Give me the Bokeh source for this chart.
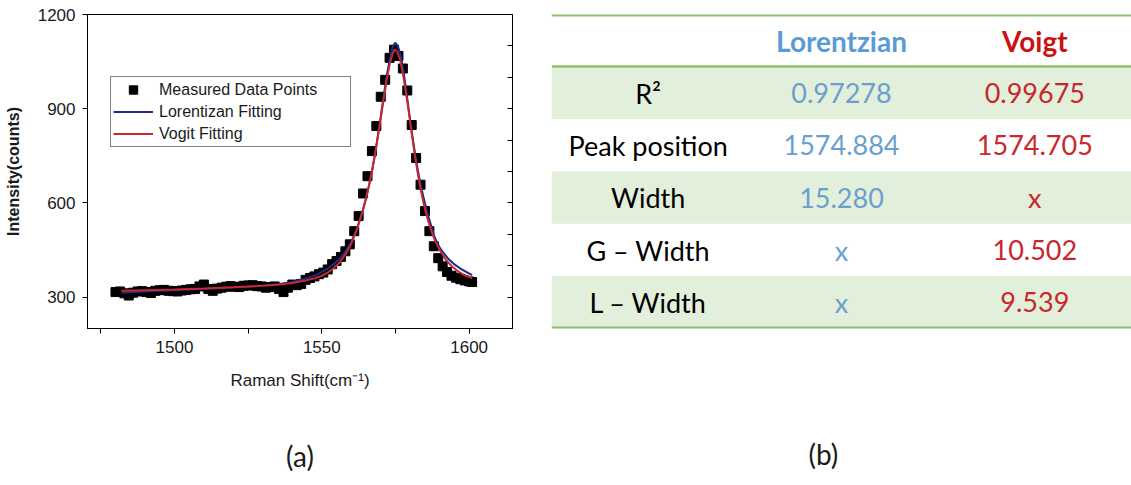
from bokeh.plotting import figure
from bokeh.models import (Range1d, LinearAxis, SingleIntervalTicker, FixedTicker, Legend,
                          LegendItem, FactorRange, Title)
from bokeh.layouts import row
from bokeh.core.properties import value
from bokeh.embed import file_html
from bokeh.resources import INLINE

# ---------------- data: Raman spectrum ----------------
meas_x = [1480.0, 1481.5, 1483.0, 1484.5, 1486.0, 1487.5, 1489.0, 1490.5, 1492.0, 1493.5,
          1495.0, 1496.5, 1498.0, 1499.5, 1501.0, 1502.5, 1504.0, 1505.5, 1507.0, 1508.5,
          1510.0, 1511.5, 1513.0, 1514.5, 1516.0, 1517.5, 1519.0, 1520.5, 1522.0, 1523.5,
          1525.0, 1526.5, 1528.0, 1529.5, 1531.0, 1532.5, 1534.0, 1535.5, 1537.0, 1538.5,
          1540.0, 1541.5, 1543.0, 1544.5, 1546.0, 1547.5, 1549.0, 1550.5, 1552.0, 1553.5,
          1555.0, 1556.5, 1558.0, 1559.5, 1561.0, 1562.5, 1564.0, 1565.5, 1567.0, 1568.5,
          1570.0, 1571.5, 1573.0, 1574.5, 1576.0, 1577.5, 1579.0, 1580.5, 1582.0, 1583.5,
          1585.0, 1586.5, 1588.0, 1589.5, 1591.0, 1592.5, 1594.0, 1595.5, 1597.0, 1598.5,
          1600.0, 1601.0]
meas_y = [316, 318, 312, 305, 314, 318, 319, 316, 313, 320,
          322, 323, 320, 319, 318, 321, 323, 325, 326, 334,
          340, 326, 320, 327, 330, 333, 335, 333, 332, 336,
          337, 338, 335, 334, 330, 332, 334, 326, 316, 330,
          340, 338, 342, 355, 361, 366, 373, 378, 388, 405,
          415, 428, 446, 468, 510, 558, 630, 685, 765, 845,
          938, 992, 1062, 1088, 1068, 1028, 958, 848, 743, 658,
          574, 510, 462, 424, 398, 380, 368, 362, 357, 353,
          350, 348]

lor_x = [1482, 1490, 1500, 1510, 1520, 1530, 1535, 1540, 1545, 1548, 1550, 1552, 1554,
         1556, 1558, 1560, 1562, 1564, 1565, 1566, 1567, 1568, 1569, 1570, 1571, 1572,
         1573, 1574, 1574.9, 1575.8, 1576.8, 1577.8, 1579, 1580, 1581, 1582, 1583, 1584,
         1585, 1586, 1587, 1588, 1589, 1590, 1591, 1593, 1595, 1597, 1599, 1601]
lor_y = [314, 318, 322, 326, 331, 337, 341, 348, 360, 370, 380, 391, 405,
         422, 445, 476, 520, 580, 615, 655, 700, 752, 812, 875, 940, 1003,
         1055, 1095, 1110, 1100, 1068, 1015, 932, 862, 795, 735, 683, 638,
         598, 562, 530, 497, 476, 458, 444, 421, 404, 391, 380, 370]

voigt_x = [1482, 1490, 1500, 1510, 1520, 1530, 1535, 1540, 1545, 1548, 1550, 1552, 1554,
           1556, 1558, 1560, 1562, 1564, 1565, 1566, 1567, 1568, 1569, 1570, 1571, 1572,
           1573, 1574, 1574.7, 1575.5, 1576.5, 1577.5, 1578.5, 1579.5, 1580.5, 1581.5,
           1582.5, 1583.5, 1584.5, 1585.5, 1586.5, 1587.5, 1588.5, 1590, 1592, 1594,
           1596, 1598, 1601]
voigt_y = [320, 322, 324, 327, 331, 336, 339, 345, 354, 361, 368, 378, 392,
           410, 436, 470, 517, 578, 614, 655, 700, 752, 810, 870, 932, 990,
           1040, 1075, 1088, 1083, 1058, 1012, 955, 890, 822, 756,
           697, 645, 600, 562, 530, 502, 478, 450, 420, 399,
           384, 372, 360]

legend_labels = ["Measured Data Points", "Lorentizan Fitting", "Vogit Fitting"]

# ---------------- data: fit table ----------------
col_keys = ["param", "Lorentzian", "Voigt"]
header_texts = ["Lorentzian", "Voigt"]
param_names = ["R²", "Peak position", "Width", "G – Width", "L – Width"]
lorentz_vals = ["0.97278", "1574.884", "15.280", "x", "x"]
voigt_vals = ["0.99675", "1574.705", "x", "10.502", "9.539"]
row_keys = ["header"] + param_names
captions = ["(a)", "(b)"]

# ---------------- styles ----------------
FONT = "Liberation Sans"
TFONT = "Lato"
INK = "#1a1a1a"
BLUE_LINE = "#1c2a8c"
RED_LINE = "#c8282e"
T_BLUE_H = "#5b9bd5"
T_BLUE = "#6a9fd0"
T_RED_H = "#cc1111"
T_RED = "#c8282d"
GREEN_BG = "#e2efda"
GREEN_LINE = "#8fbf6e"

# ---------------- left: spectrum plot ----------------
p1 = figure(width=545, height=485, x_range=Range1d(1470.5, 1614.7), y_range=Range1d(200, 1200),
            output_backend="svg", toolbar_location=None,
            min_border_left=87, min_border_right=33, min_border_top=13, min_border_bottom=157)
p1.grid.visible = False
p1.outline_line_color = "black"
p1.outline_line_width = 1
p1.background_fill_color = "white"
p1.border_fill_color = "white"

xa = p1.xaxis[0]
xa.ticker = SingleIntervalTicker(interval=50, num_minor_ticks=2)
xa.major_tick_out = 5
xa.major_tick_in = 0
xa.minor_tick_out = 5
xa.minor_tick_in = 0
xa.major_label_standoff = 7
xa.major_label_text_font = FONT
xa.major_label_text_font_size = "17px"
xa.major_label_text_color = INK
xa.axis_label = "Raman Shift(cm⁻¹)"
xa.axis_label_text_font = FONT
xa.axis_label_text_font_size = "17px"
xa.axis_label_text_font_style = "normal"
xa.axis_label_text_color = INK
xa.axis_label_standoff = 15

ya = p1.yaxis[0]
ya.ticker = SingleIntervalTicker(interval=300, num_minor_ticks=0)
ya.major_tick_out = 5
ya.major_tick_in = 0
ya.minor_tick_line_color = None
ya.major_label_standoff = 7
ya.major_label_text_font = FONT
ya.major_label_text_font_size = "17px"
ya.major_label_text_color = INK
ya.axis_label = "Intensity(counts)"
ya.axis_label_text_font = FONT
ya.axis_label_text_font_size = "16px"
ya.axis_label_text_font_style = "bold"
ya.axis_label_text_color = INK
ya.axis_label_standoff = 13

ra = LinearAxis(ticker=SingleIntervalTicker(interval=100, num_minor_ticks=0),
                major_tick_in=5, major_tick_out=0, minor_tick_line_color=None,
                major_label_text_color=None, major_label_text_font_size="10px",
                major_label_standoff=0, axis_line_color="black")
p1.add_layout(ra, "right")

sq = p1.scatter(meas_x, meas_y, marker="square", size=9, fill_color="black", line_color="black")
bl = p1.line(lor_x, lor_y, line_color=BLUE_LINE, line_width=2)
rl = p1.line(voigt_x, voigt_y, line_color=RED_LINE, line_width=2)

legend = Legend(items=[LegendItem(label=legend_labels[0], renderers=[sq]),
                       LegendItem(label=legend_labels[1], renderers=[bl]),
                       LegendItem(label=legend_labels[2], renderers=[rl])],
                location=(23, 181), margin=0, padding=2, spacing=1,
                label_height=21, glyph_height=21, glyph_width=40, label_standoff=6,
                label_width=189, label_text_font=FONT, label_text_font_size="16px",
                label_text_color=INK, border_line_color="black", border_line_width=1,
                background_fill_color="white", background_fill_alpha=1)
p1.add_layout(legend)

# caption (a): a tick-less axis whose label sits centred under the frame
cap_a = LinearAxis(ticker=FixedTicker(ticks=[]), axis_line_color=None,
                   major_tick_line_color=None, minor_tick_line_color=None,
                   major_tick_out=0, major_tick_in=0, minor_tick_out=0, minor_tick_in=0,
                   major_label_standoff=0, axis_label=captions[0], axis_label_standoff=46,
                   axis_label_text_font=TFONT, axis_label_text_font_size="28px",
                   axis_label_text_font_style="normal", axis_label_text_color=INK)
p1.add_layout(cap_a, "below")

# ---------------- right: table ----------------
p2 = figure(width=586, height=485,
            x_range=FactorRange(factors=col_keys),
            y_range=FactorRange(factors=row_keys[::-1]),
            output_backend="svg", toolbar_location=None,
            x_axis_location=None, y_axis_location=None,
            min_border_left=6, min_border_right=0, min_border_top=14, min_border_bottom=147)
p2.grid.visible = False
p2.outline_line_color = None
p2.background_fill_color = "white"
p2.border_fill_color = "white"

shaded = param_names[0::2]
p2.hbar(y=shaded, left=0, right=len(col_keys), height=1, fill_color=GREEN_BG, line_color=None)
p2.hspan(y=[len(row_keys), 0], line_color=GREEN_LINE, line_width=4)
p2.hspan(y=[len(row_keys) - 1], line_color=GREEN_LINE, line_width=2.5)

p2.text(x=header_texts, y=["header"] * len(header_texts), text=header_texts,
        text_color=[T_BLUE_H, T_RED_H], text_align="center", text_baseline="middle",
        text_font=value(TFONT), text_font_size="28px", text_font_style="bold")

n = len(param_names)
p2.text(x=["param"] * n + ["Lorentzian"] * n + ["Voigt"] * n,
        y=param_names * 3,
        text=param_names + lorentz_vals + voigt_vals,
        text_color=["black"] * n + [T_BLUE] * n + [T_RED] * n,
        text_align="center", text_baseline="middle",
        text_font=value(TFONT), text_font_size="27px")

# caption (b): an invisible spacer axis below the table, then a title shifted left
spacer = LinearAxis(ticker=FixedTicker(ticks=[len(col_keys) / 2]), axis_line_color=None,
                    major_tick_line_color=None, minor_tick_line_color=None,
                    major_tick_out=106, major_tick_in=0, minor_tick_out=0, minor_tick_in=0,
                    major_label_standoff=0, major_label_text_color=None,
                    major_label_text_font_size="10px")
p2.add_layout(spacer, "below")
p2.add_layout(Title(text=captions[1], align="left", offset=257, standoff=0, text_font=TFONT,
                    text_font_size="28px", text_font_style="normal", text_color=INK), "below")

layout = row(p1, p2)
open("out.html", "w").write(file_html(layout, INLINE))
